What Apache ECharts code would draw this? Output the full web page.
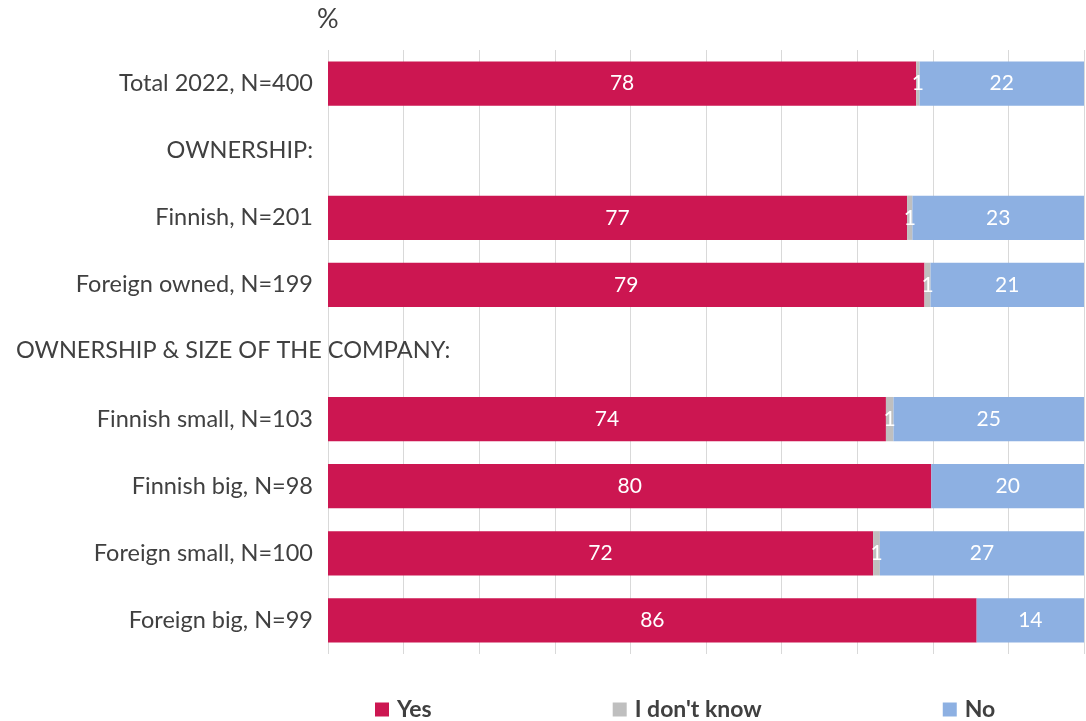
<!DOCTYPE html>
<html>
<head>
<meta charset="utf-8">
<script src="https://cdn.jsdelivr.net/npm/echarts@6/dist/echarts.min.js"></script>
<style>
html,body{margin:0;padding:0;background:#fff;}
#c{width:1086px;height:721px;}
</style>
</head>
<body>
<div id="c"></div>
<script>
const categories = [
  'Total 2022, N=400',
  'OWNERSHIP:',
  'Finnish, N=201',
  'Foreign owned, N=199',
  'OWNERSHIP & SIZE OF THE COMPANY:',
  'Finnish small, N=103',
  'Finnish big, N=98',
  'Foreign small, N=100',
  'Foreign big, N=99'
];
const seriesNames = ['Yes', "I don't know", 'No'];
const yesValues = [77.8, null, 76.6, 78.9, null, 73.8, 79.8, 72.1, 85.8];
const idkValues = [0.45, null, 0.7, 0.8, null, 1.0, 0, 0.9, 0];
const noValues  = [21.75, null, 22.7, 20.3, null, 25.2, 20.2, 27.0, 14.2];
const yesLabels = ['78', '', '77', '79', '', '74', '80', '72', '86'];
const idkLabels = ['1', '', '1', '1', '', '1', '', '1', ''];
const noLabels  = ['22', '', '23', '21', '', '25', '20', '27', '14'];
const headerLeftCategory = 'OWNERSHIP & SIZE OF THE COMPANY:';
const unitLabel = '%';

const FONT = 'Lato, "Open Sans", sans-serif';
const TXT = '#404040';
const colors = ['#CC1651', '#BFBFBF', '#8DB0E2'];

const chart = echarts.init(document.getElementById('c'), null, {renderer: 'canvas'});

function mkSeries(name, data, labels, color) {
  return {
    name: name,
    type: 'bar',
    stack: 'all',
    barWidth: '66%',
    data: data,
    itemStyle: {color: color},
    label: {
      show: true,
      position: 'inside',
      color: '#ffffff',
      fontFamily: FONT,
      fontSize: 21,
      formatter: p => labels[p.dataIndex] || ''
    },
    emphasis: {disabled: true}
  };
}

chart.setOption({
  animation: false,
  color: colors,
  textStyle: {fontFamily: FONT},
  grid: {left: 328, right: 2, top: 50, bottom: 67, containLabel: false, outerBoundsMode: 'none'},
  legend: {
    top: 693,
    left: 370,
    itemGap: 181,
    itemWidth: 14,
    itemHeight: 14,
    icon: 'rect',
    textStyle: {fontFamily: FONT, fontSize: 23, fontWeight: 'bold', color: TXT, padding: [0, 0, 0, 3]},
    data: seriesNames
  },
  xAxis: {
    type: 'value',
    min: 0, max: 100, interval: 10,
    axisLabel: {show: false},
    axisLine: {show: false},
    axisTick: {show: false},
    splitLine: {show: true, lineStyle: {color: '#D9D9D9', width: 1}}
  },
  yAxis: {
    type: 'category',
    inverse: true,
    data: categories,
    axisLine: {show: false},
    axisTick: {show: false},
    axisLabel: {
      margin: 15,
      fontFamily: FONT,
      fontSize: 23.5,
      color: TXT,
      formatter: v => v === headerLeftCategory ? '' : v
    }
  },
  series: [
    mkSeries(seriesNames[0], yesValues, yesLabels, colors[0]),
    mkSeries(seriesNames[1], idkValues, idkLabels, colors[1]),
    mkSeries(seriesNames[2], noValues, noLabels, colors[2])
  ]
});

const yHeader = chart.convertToPixel({yAxisIndex: 0}, headerLeftCategory);
chart.setOption({
  graphic: [{
    type: 'text',
    left: 16,
    top: yHeader - 14,
    style: {text: headerLeftCategory, font: '23.5px ' + FONT, fill: TXT}
  }, {
    type: 'text',
    left: 317,
    top: 6,
    style: {text: unitLabel, font: '27px ' + FONT, fill: TXT}
  }]
});
</script>
</body>
</html>
